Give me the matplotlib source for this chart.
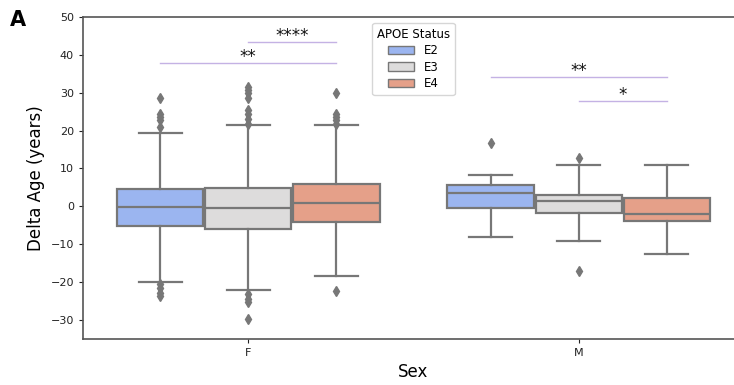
import colorsys
import matplotlib
matplotlib.use("Agg")
import matplotlib.pyplot as plt
from matplotlib.patches import Patch

# ── Data ──
sexes = ["F", "M"]
apoe = ["E2", "E3", "E4"]

# one entry per (sex, apoe) in order F-E2, F-E3, F-E4, M-E2, M-E3, M-E4
medians = [-0.3, -0.5, 0.9, 3.4, 1.3, -2.1]
q1s = [-5.3, -5.9, -4.05, -0.5, -1.75, -4.0]
q3s = [4.6, 4.95, 5.9, 5.7, 3.1, 2.1]
whis_lo = [-20.0, -22.2, -18.4, -8.1, -9.1, -12.5]
whis_hi = [19.4, 21.4, 21.4, 8.2, 11.0, 10.8]
fliers = [
    [28.7, 24.5, 23.6, 22.7, 20.9, -20.6, -21.5, -22.9, -23.7],
    [31.4, 30.6, 29.8, 28.7, 25.3, 24.5, 23.1, 21.8, -23.2, -24.5, -25.4, -29.8],
    [29.8, 24.5, 23.6, 22.7, 21.8, -22.3],
    [16.7],
    [12.8, -17.2],
    [],
]

# significance brackets: sex, apoe a, apoe b, height, label
sig_sex = ["F", "F", "M", "M"]
sig_a = ["E2", "E3", "E2", "E3"]
sig_b = ["E4", "E4", "E4", "E4"]
sig_y = [37.9, 43.3, 34.2, 27.7]
sig_txt = ["**", "****", "**", "*"]


def desat(rgb, prop=0.75):
    h, l, s = colorsys.rgb_to_hls(*rgb[:3])
    return colorsys.hls_to_rgb(h, l, s * prop)


cmap = plt.get_cmap("coolwarm")
colors = [desat(cmap(v)) for v in (0.25, 0.5, 0.75)]
line_col = "#777777"

fig = plt.figure(figsize=(7.34, 3.85), dpi=100)
ax = fig.add_axes([0.1131, 0.1203, 0.9005, 0.8355])

n_hue = len(apoe)
hue_w = 0.8 / n_hue
offsets = [(i - (n_hue - 1) / 2) * hue_w for i in range(n_hue)]

stats, positions, facecols = [], [], []
k = 0
for gi, sx in enumerate(sexes):
    for hi, ap in enumerate(apoe):
        stats.append(dict(med=medians[k], q1=q1s[k], q3=q3s[k],
                          whislo=whis_lo[k], whishi=whis_hi[k],
                          fliers=fliers[k], label=f"{sx}-{ap}"))
        positions.append(gi + offsets[hi])
        facecols.append(colors[hi])
        k += 1

lw = 1.6
box_w = hue_w * 0.98
bp = ax.bxp(stats, positions=positions, widths=box_w,
            patch_artist=True, showfliers=True, manage_ticks=False,
            capwidths=box_w * 0.5,
            boxprops=dict(edgecolor=line_col, linewidth=lw),
            medianprops=dict(color=line_col, linewidth=lw),
            whiskerprops=dict(color=line_col, linewidth=lw),
            capprops=dict(color=line_col, linewidth=lw),
            flierprops=dict(marker="d", markerfacecolor=line_col,
                            markeredgecolor=line_col, markersize=5))
for patch, fc in zip(bp["boxes"], facecols):
    patch.set_facecolor(fc)

# significance lines
for sx, a, b, y, t in zip(sig_sex, sig_a, sig_b, sig_y, sig_txt):
    g = sexes.index(sx)
    xa = g + offsets[apoe.index(a)]
    xb = g + offsets[apoe.index(b)]
    ax.plot([xa, xb], [y, y], color="#c4b2e4", linewidth=1.0, zorder=3)
    ax.text((xa + xb) / 2, y - 0.8, t, ha="center", va="bottom",
            fontsize=12, color="#111111")

ax.set_xlim(-0.5, 1.5)
ax.set_ylim(-35, 50)
ax.set_xticks(range(len(sexes)))
ax.set_xticklabels(sexes)
ax.set_yticks(range(-30, 51, 10))
ax.tick_params(labelsize=8, colors="#222222", length=3)
for sp in ax.spines.values():
    sp.set_color("#555555")
    sp.set_linewidth(1.2)
ax.spines["right"].set_visible(False)
ax.set_xlabel("Sex", fontsize=12)
ax.set_ylabel("Delta Age (years)", fontsize=12)

handles = [Patch(facecolor=colors[i], edgecolor=line_col, label=apoe[i])
           for i in range(n_hue)]
ax.legend(handles=handles, title="APOE Status", loc="upper center",
          fontsize=8.5, title_fontsize=8.5, borderaxespad=0.5,
          labelspacing=0.3, handlelength=2.2)

fig.text(0.014, 0.975, "A", fontsize=15, fontweight="bold", va="top", ha="left")

fig.savefig("out.png", dpi=100)
